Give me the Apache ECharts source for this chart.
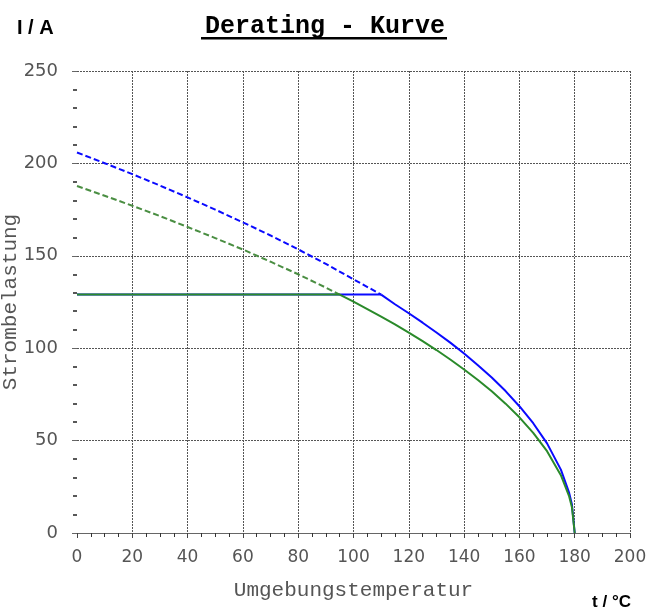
<!DOCTYPE html>
<html>
<head>
<meta charset="utf-8">
<script src="https://cdn.jsdelivr.net/npm/echarts@6/dist/echarts.min.js"></script>
<style>
html,body{margin:0;padding:0;background:#fff;}
#chart{width:650px;height:609px;}
</style>
</head>
<body>
<div id="chart"></div>
<script>
// Data
var titleText = 'Derating - Kurve';
var yUnit = 'I / A';
var xUnit = 't / °C';
var yName = 'Strombelastung';
var xName = 'Umgebungstemperatur';

// blue: dashed extension (0..110), solid derating part (110..180), flat limit
var blueDashT = [0, 10, 20, 30, 40, 50, 60, 70, 80, 90, 100, 110];
var blueDashI = [205.9, 200.1, 194.2, 188.0, 181.6, 175.0, 168.1, 161.0, 153.5, 145.6, 137.3, 129];
var blueSolidT = [110, 115, 120, 125, 130, 135, 140, 145, 150, 155, 160, 165, 170, 175, 178, 179, 180];
var blueSolidI = [129, 123.8, 118.9, 113.8, 108.5, 103.0, 97.1, 90.8, 84.1, 76.8, 68.6, 59.4, 48.5, 34.3, 21.7, 15.4, 0];
var blueFlatT = [0, 110];
var blueFlatI = [129, 129];

// green: dashed extension (0..95), solid derating part (95..180), flat limit
var greenDashT = [0, 10, 20, 30, 40, 50, 60, 70, 80, 90, 95];
var greenDashI = [187.8, 182.5, 177.1, 171.5, 165.6, 159.6, 153.4, 146.8, 140.0, 132.8, 129];
var greenSolidT = [95, 100, 105, 110, 115, 120, 125, 130, 135, 140, 145, 150, 155, 160, 165, 170, 175, 178, 179, 180];
var greenSolidI = [129, 125.2, 121.2, 117.1, 112.9, 108.4, 103.8, 99.0, 93.9, 88.5, 82.8, 76.7, 70.0, 62.6, 54.2, 44.3, 31.3, 19.8, 14.0, 0];
var greenFlatT = [0, 95];
var greenFlatI = [129, 129];

function pairs(t, v) { return t.map(function (x, i) { return [x, v[i]]; }); }

var BLUE = '#0a0aff';
var GREEN = '#2a8a2a';
var GREEN_D = '#4a8e42';

function line(name, t, v, color, dashed) {
  return {
    name: name, type: 'line', data: pairs(t, v), symbol: 'none', smooth: false,
    lineStyle: { color: color, width: 2, type: dashed ? [6, 3] : 'solid' },
    silent: true
  };
}

var chart = echarts.init(document.getElementById('chart'), null, { renderer: 'canvas' });
chart.setOption({
  animation: false,
  backgroundColor: '#ffffff',
  title: [
    { text: titleText, left: 'center', top: 9,
      textStyle: { fontFamily: 'Liberation Mono', fontWeight: 'bold', fontSize: 25, color: '#000' } },
    { text: yUnit, left: 12, top: 13,
      textStyle: { fontFamily: 'Liberation Sans', fontWeight: 'bold', fontSize: 20, color: '#000' } },
    { text: xUnit, right: 14, top: 589,
      textStyle: { fontFamily: 'Liberation Sans', fontWeight: 'bold', fontSize: 17, color: '#000' } }
  ],
  graphic: [
    { type: 'rect', shape: { x: 201, y: 37, width: 246, height: 2.5 }, style: { fill: '#000' }, silent: true }
  ],
  grid: { left: 77, right: 20, top: 71, bottom: 76, containLabel: false, outerBoundsMode: 'none' },
  xAxis: {
    type: 'value', min: 0, max: 200, interval: 20,
    name: xName, nameLocation: 'middle', nameGap: 47, nameMoveOverlap: false,
    nameTextStyle: { fontFamily: 'Liberation Mono', fontSize: 21, color: '#555' },
    axisLine: { show: true, onZero: false, lineStyle: { color: '#666', width: 1 } },
    axisTick: { show: true, inside: false, length: 5, lineStyle: { color: '#444' } },
    minorTick: { show: true, splitNumber: 4, length: 4, lineStyle: { color: '#333', width: 1 } },
    axisLabel: { margin: 16, fontFamily: 'DejaVu Sans', fontSize: 17, color: '#555' },
    splitLine: { show: true, showMinLine: false, lineStyle: { color: '#555', width: 1, type: [2, 1] } }
  },
  yAxis: {
    type: 'value', min: 0, max: 250, interval: 50,
    name: yName, nameLocation: 'middle', nameGap: 56, nameRotate: 90, nameMoveOverlap: false,
    nameTextStyle: { fontFamily: 'Liberation Mono', fontSize: 21, color: '#555' },
    axisLine: { show: false },
    axisTick: { show: true, inside: false, length: 5, lineStyle: { color: '#666' } },
    minorTick: { show: true, splitNumber: 5, length: 4, lineStyle: { color: '#222', width: 1.5 } },
    axisLabel: { margin: 19, fontFamily: 'DejaVu Sans', fontSize: 18, color: '#555' },
    splitLine: { show: true, showMinLine: false, lineStyle: { color: '#555', width: 1, type: [2, 1] } }
  },
  series: [
    line('blueDash', blueDashT, blueDashI, BLUE, true),
    line('blueFlat', blueFlatT, blueFlatI, BLUE, false),
    line('blueSolid', blueSolidT, blueSolidI, BLUE, false),
    line('greenDash', greenDashT, greenDashI, GREEN_D, true),
    line('greenFlat', greenFlatT, greenFlatI, GREEN, false),
    line('greenSolid', greenSolidT, greenSolidI, GREEN, false)
  ]
});
</script>
</body>
</html>
